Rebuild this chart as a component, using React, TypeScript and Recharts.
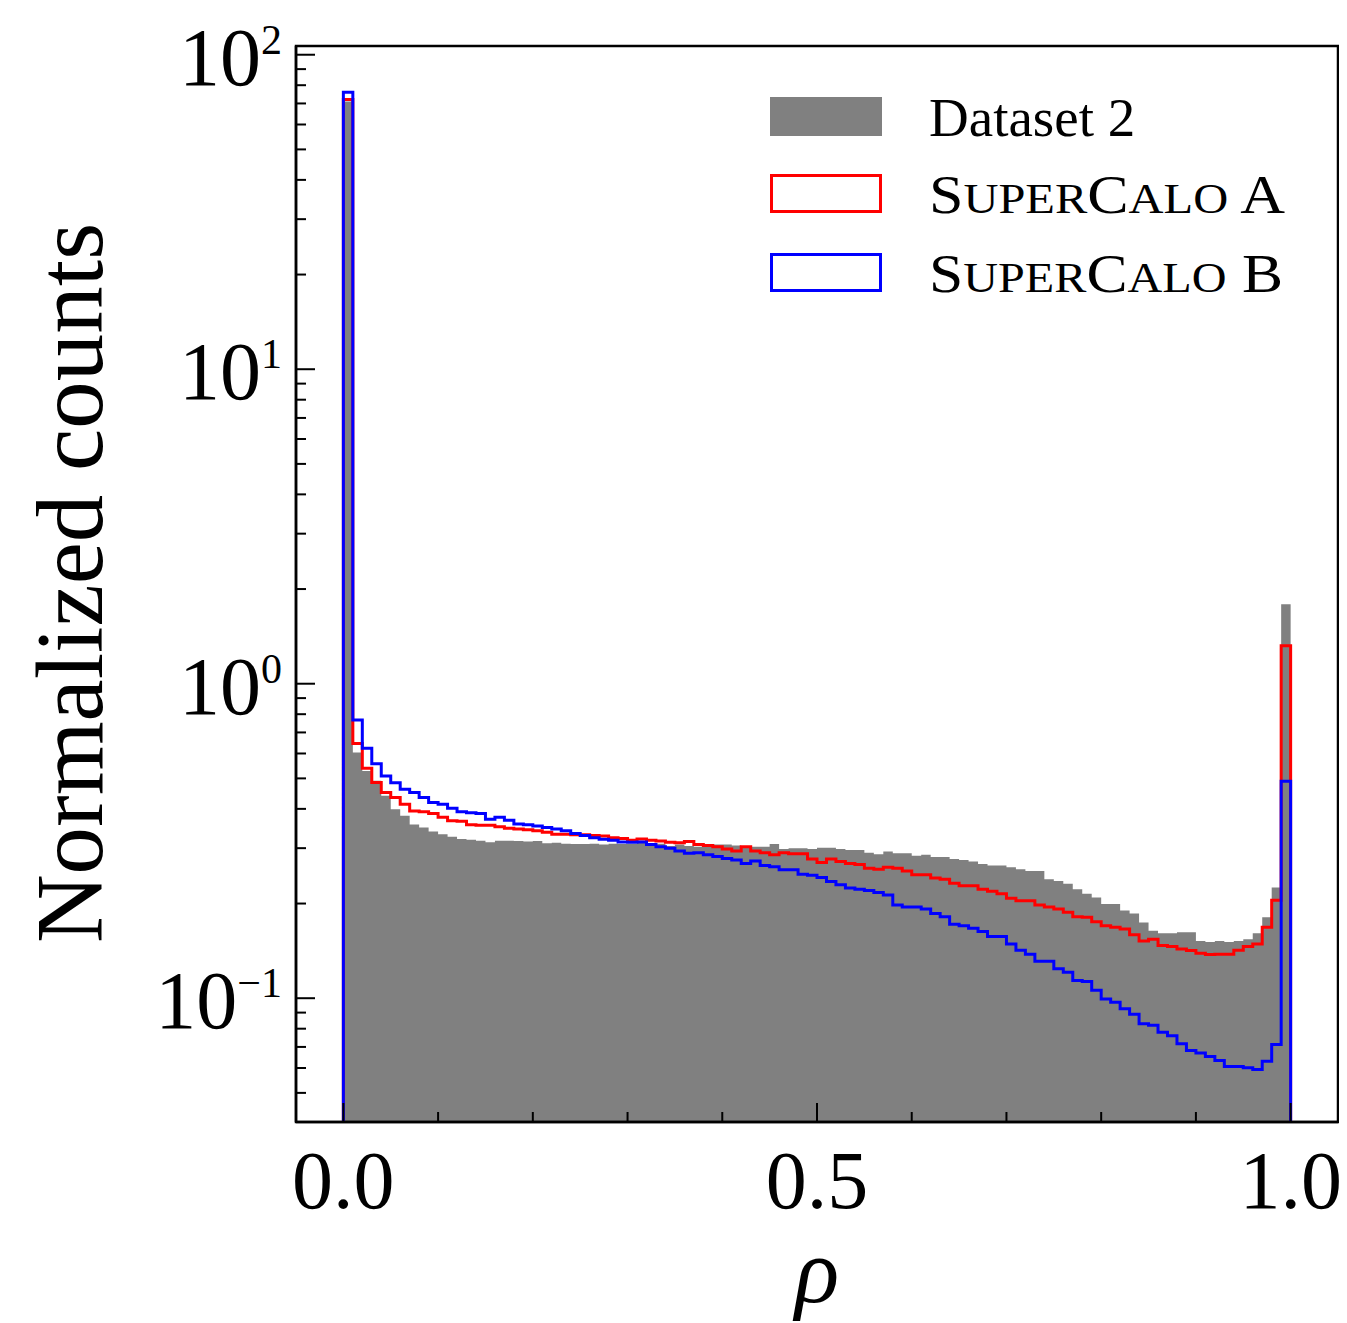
import React from 'react';
import { ComposedChart, Area, Line, XAxis, YAxis, ReferenceArea, Customized } from 'recharts';

// ---------- data ----------
const BIN_COUNT = 100;
const X_MIN = -0.05;
const X_MAX = 1.05;
const Y_MIN = 0.0404;
const Y_MAX = 106.6;
const Y_FLOOR = 0.005; // below the visible range: lets step outlines drop to the axis

const dataset2 = [
  71, 0.604, 0.528, 0.491, 0.44, 0.399, 0.38, 0.357, 0.349, 0.339,
  0.332, 0.326, 0.321, 0.319, 0.317, 0.313, 0.317, 0.317, 0.316, 0.315,
  0.316, 0.311, 0.312, 0.31, 0.309, 0.309, 0.31, 0.308, 0.31, 0.309,
  0.31, 0.312, 0.308, 0.31, 0.305, 0.308, 0.305, 0.303, 0.306, 0.308,
  0.308, 0.306, 0.305, 0.303, 0.303, 0.309, 0.298, 0.3, 0.3, 0.298,
  0.301, 0.301, 0.298, 0.296, 0.296, 0.29, 0.287, 0.293, 0.289, 0.289,
  0.284, 0.286, 0.281, 0.281, 0.277, 0.275, 0.272, 0.267, 0.264, 0.264,
  0.261, 0.257, 0.254, 0.254, 0.239, 0.236, 0.231, 0.222, 0.215, 0.209,
  0.1995, 0.1995, 0.19, 0.186, 0.174, 0.164, 0.161, 0.161, 0.162, 0.162,
  0.152, 0.151, 0.152, 0.151, 0.152, 0.154, 0.161, 0.181, 0.225, 1.79,
];

const superCaloA = [
  72, 0.645, 0.539, 0.485, 0.451, 0.435, 0.414, 0.394, 0.392, 0.387,
  0.376, 0.367, 0.365, 0.356, 0.355, 0.355, 0.351, 0.347, 0.345, 0.343,
  0.341, 0.337, 0.332, 0.332, 0.331, 0.331, 0.329, 0.328, 0.324, 0.322,
  0.318, 0.321, 0.318, 0.316, 0.313, 0.312, 0.315, 0.308, 0.306, 0.303,
  0.298, 0.294, 0.303, 0.294, 0.29, 0.286, 0.29, 0.288, 0.288, 0.277,
  0.27, 0.277, 0.272, 0.268, 0.266, 0.259, 0.257, 0.261, 0.259, 0.254,
  0.247, 0.247, 0.241, 0.239, 0.232, 0.228, 0.228, 0.222, 0.219, 0.215,
  0.208, 0.204, 0.204, 0.198, 0.195, 0.192, 0.1875, 0.1816, 0.181, 0.175,
  0.17, 0.168, 0.166, 0.159, 0.152, 0.154, 0.147, 0.146, 0.1435, 0.1417,
  0.139, 0.1376, 0.138, 0.138, 0.142, 0.146, 0.1486, 0.168, 0.205, 1.32,
];

const superCaloB = [
  76, 0.767, 0.623, 0.557, 0.509, 0.484, 0.462, 0.451, 0.435, 0.419,
  0.414, 0.402, 0.392, 0.389, 0.387, 0.371, 0.376, 0.368, 0.358, 0.356,
  0.353, 0.349, 0.345, 0.341, 0.334, 0.329, 0.324, 0.32, 0.318, 0.314,
  0.313, 0.314, 0.308, 0.303, 0.3, 0.294, 0.289, 0.29, 0.286, 0.282,
  0.278, 0.275, 0.268, 0.273, 0.264, 0.262, 0.256, 0.256, 0.248, 0.246,
  0.242, 0.235, 0.2295, 0.224, 0.222, 0.22, 0.217, 0.213, 0.198, 0.195,
  0.195, 0.192, 0.186, 0.1816, 0.172, 0.17, 0.167, 0.163, 0.157, 0.157,
  0.1486, 0.142, 0.138, 0.131, 0.131, 0.124, 0.121, 0.1138, 0.113, 0.106,
  0.0995, 0.097, 0.0925, 0.089, 0.083, 0.082, 0.078, 0.076, 0.0716, 0.0682,
  0.0669, 0.0653, 0.0634, 0.0607, 0.0607, 0.0601, 0.0593, 0.063, 0.0713, 0.49,
];

const xMajorTicks = [0, 0.5, 1];
const xMajorLabels = ['0.0', '0.5', '1.0'];
const xMinorTicks = [0.1, 0.2, 0.3, 0.4, 0.6, 0.7, 0.8, 0.9];

const yMajorTicks = [0.1, 1, 10, 100];
const yMajorExponents = ['\u22121', '0', '1', '2'];
const yMinorTicks = [
  0.05, 0.06, 0.07, 0.08, 0.09,
  0.2, 0.3, 0.4, 0.5, 0.6, 0.7, 0.8, 0.9,
  2, 3, 4, 5, 6, 7, 8, 9,
  20, 30, 40, 50, 60, 70, 80, 90,
];

const legendItems = [
  { key: 'd2', label: 'Dataset 2', kind: 'fill', color: '#808080' },
  { key: 'a', label: 'A', kind: 'outline', color: '#ff0000' },
  { key: 'b', label: 'B', kind: 'outline', color: '#0000ff' },
];

// ---------- derived tables ----------
const binLeft = (i: number) => i / BIN_COUNT;

const fillData = [
  ...dataset2.map((v, i) => ({ x: binLeft(i), v })),
  { x: 1, v: dataset2[dataset2.length - 1] },
];

const outlineData = (vals: number[]) => [
  { x: 0, v: Y_FLOOR },
  ...vals.map((v, i) => ({ x: binLeft(i), v })),
  { x: 1, v: vals[vals.length - 1] },
  { x: 1, v: Y_FLOOR },
];

const dataA = outlineData(superCaloA);
const dataB = outlineData(superCaloB);

// ---------- styling ----------
const SERIF = '"Liberation Serif", "DejaVu Serif", serif';
const MAJOR_LEN = 19;
const MINOR_LEN = 10;
const TICK_W = 2;
const SPINE_W = 2.5;

const W = 1339;
const H = 1315;
const MARGIN = { top: 38, right: 9, left: 0, bottom: 0 };
const Y_AXIS_W = 288;
const X_AXIS_H = 201;

const near = (a: number, b: number) => Math.abs(a - b) <= 1e-6 * Math.max(1, Math.abs(b));

const YTick = (props: any) => {
  const { x, y, payload } = props;
  const idx = yMajorTicks.findIndex((m) => near(payload.value, m));
  const len = idx >= 0 ? MAJOR_LEN : MINOR_LEN;
  return (
    <g>
      <line x1={x} y1={y} x2={x + len} y2={y} stroke="#000" strokeWidth={TICK_W} />
      {idx >= 0 && (
        <text x={x - 14} y={y + 30} textAnchor="end" fontFamily={SERIF} fontSize={82} fill="#000">
          <tspan>10</tspan>
          <tspan dy={-31} fontSize={42}>{yMajorExponents[idx]}</tspan>
        </text>
      )}
    </g>
  );
};

const XTick = (props: any) => {
  const { x, y, payload } = props;
  const idx = xMajorTicks.findIndex((m) => near(payload.value, m));
  const len = idx >= 0 ? MAJOR_LEN : MINOR_LEN;
  return (
    <g>
      <line x1={x} y1={y} x2={x} y2={y - len} stroke="#000" strokeWidth={TICK_W} />
      {idx >= 0 && (
        <text x={x} y={y + 86} textAnchor="middle" fontFamily={SERIF} fontSize={82} fill="#000">
          {xMajorLabels[idx]}
        </text>
      )}
    </g>
  );
};

const Decorations = () => {
  const boxX = 762;
  const boxW = 112;
  const boxH = 39;
  const rowBottoms = [128, 205, 284];
  const textX = 921;
  return (
    <g>
      {/* axis titles */}
      <text
        x={94}
        y={575}
        transform="rotate(-90, 94, 575)"
        textAnchor="middle"
        fontFamily={SERIF}
        fontSize={95}
        fill="#000"
      >
        Normalized counts
      </text>
      <text x={809} y={1294} textAnchor="middle" fontFamily={SERIF} fontStyle="italic" fontSize={92} fill="#000">
        ρ
      </text>
      {/* legend */}
      {legendItems.map((it, i) => {
        const bottom = rowBottoms[i];
        return (
          <g key={it.key}>
            {it.kind === 'fill' ? (
              <rect x={boxX} y={bottom - boxH} width={boxW} height={boxH} fill={it.color} />
            ) : (
              <rect
                x={boxX + 1.5}
                y={bottom - boxH + 1.5}
                width={boxW - 3}
                height={boxH - 3}
                fill="none"
                stroke={it.color}
                strokeWidth={3}
              />
            )}
            {it.kind === 'fill' ? (
              <text x={textX} y={bottom} fontFamily={SERIF} fontSize={55} fill="#000">
                {it.label}
              </text>
            ) : (
              <text
                x={textX}
                y={bottom}
                fontFamily={SERIF}
                fontSize={55}
                fill="#000"
                textLength={it.key === 'a' ? 356 : 354}
                lengthAdjust="spacingAndGlyphs"
              >
                S<tspan fontSize={43}>UPER</tspan>C<tspan fontSize={43}>ALO</tspan> {it.label}
              </text>
            )}
          </g>
        );
      })}
    </g>
  );
};

export default function App() {
  return (
    <div style={{ width: W, height: H, background: '#fff' }}>
      <ComposedChart width={W} height={H} margin={MARGIN}>
        <XAxis
          dataKey="x"
          type="number"
          domain={[X_MIN, X_MAX]}
          allowDataOverflow
          ticks={[...xMajorTicks, ...xMinorTicks].sort((a, b) => a - b)}
          interval={0}
          tick={(p: any) => <XTick {...p} />}
          tickLine={false}
          tickSize={0}
          tickMargin={0}
          height={X_AXIS_H}
          axisLine={{ stroke: '#000', strokeWidth: SPINE_W }}
        />
        <YAxis
          dataKey="v"
          type="number"
          scale="log"
          domain={[Y_MIN, Y_MAX]}
          allowDataOverflow
          ticks={[...yMajorTicks, ...yMinorTicks].sort((a, b) => a - b)}
          interval={0}
          tick={(p: any) => <YTick {...p} />}
          tickLine={false}
          tickSize={0}
          tickMargin={0}
          width={Y_AXIS_W}
          axisLine={{ stroke: '#000', strokeWidth: SPINE_W }}
        />
        <Area
          data={fillData}
          dataKey="v"
          type="stepAfter"
          baseValue={Y_MIN}
          fill="#808080"
          fillOpacity={1}
          stroke="none"
          isAnimationActive={false}
          dot={false}
          activeDot={false}
        />
        <Line
          data={dataA}
          dataKey="v"
          type="stepAfter"
          stroke="#ff0000"
          strokeWidth={3}
          dot={false}
          activeDot={false}
          isAnimationActive={false}
        />
        <Line
          data={dataB}
          dataKey="v"
          type="stepAfter"
          stroke="#0000ff"
          strokeWidth={3}
          dot={false}
          activeDot={false}
          isAnimationActive={false}
        />
        <ReferenceArea
          x1={X_MIN}
          x2={X_MAX}
          y1={Y_MIN}
          y2={Y_MAX}
          fill="none"
          stroke="#000"
          strokeWidth={SPINE_W}
          ifOverflow="visible"
        />
        <Customized component={<Decorations />} />
      </ComposedChart>
    </div>
  );
}
